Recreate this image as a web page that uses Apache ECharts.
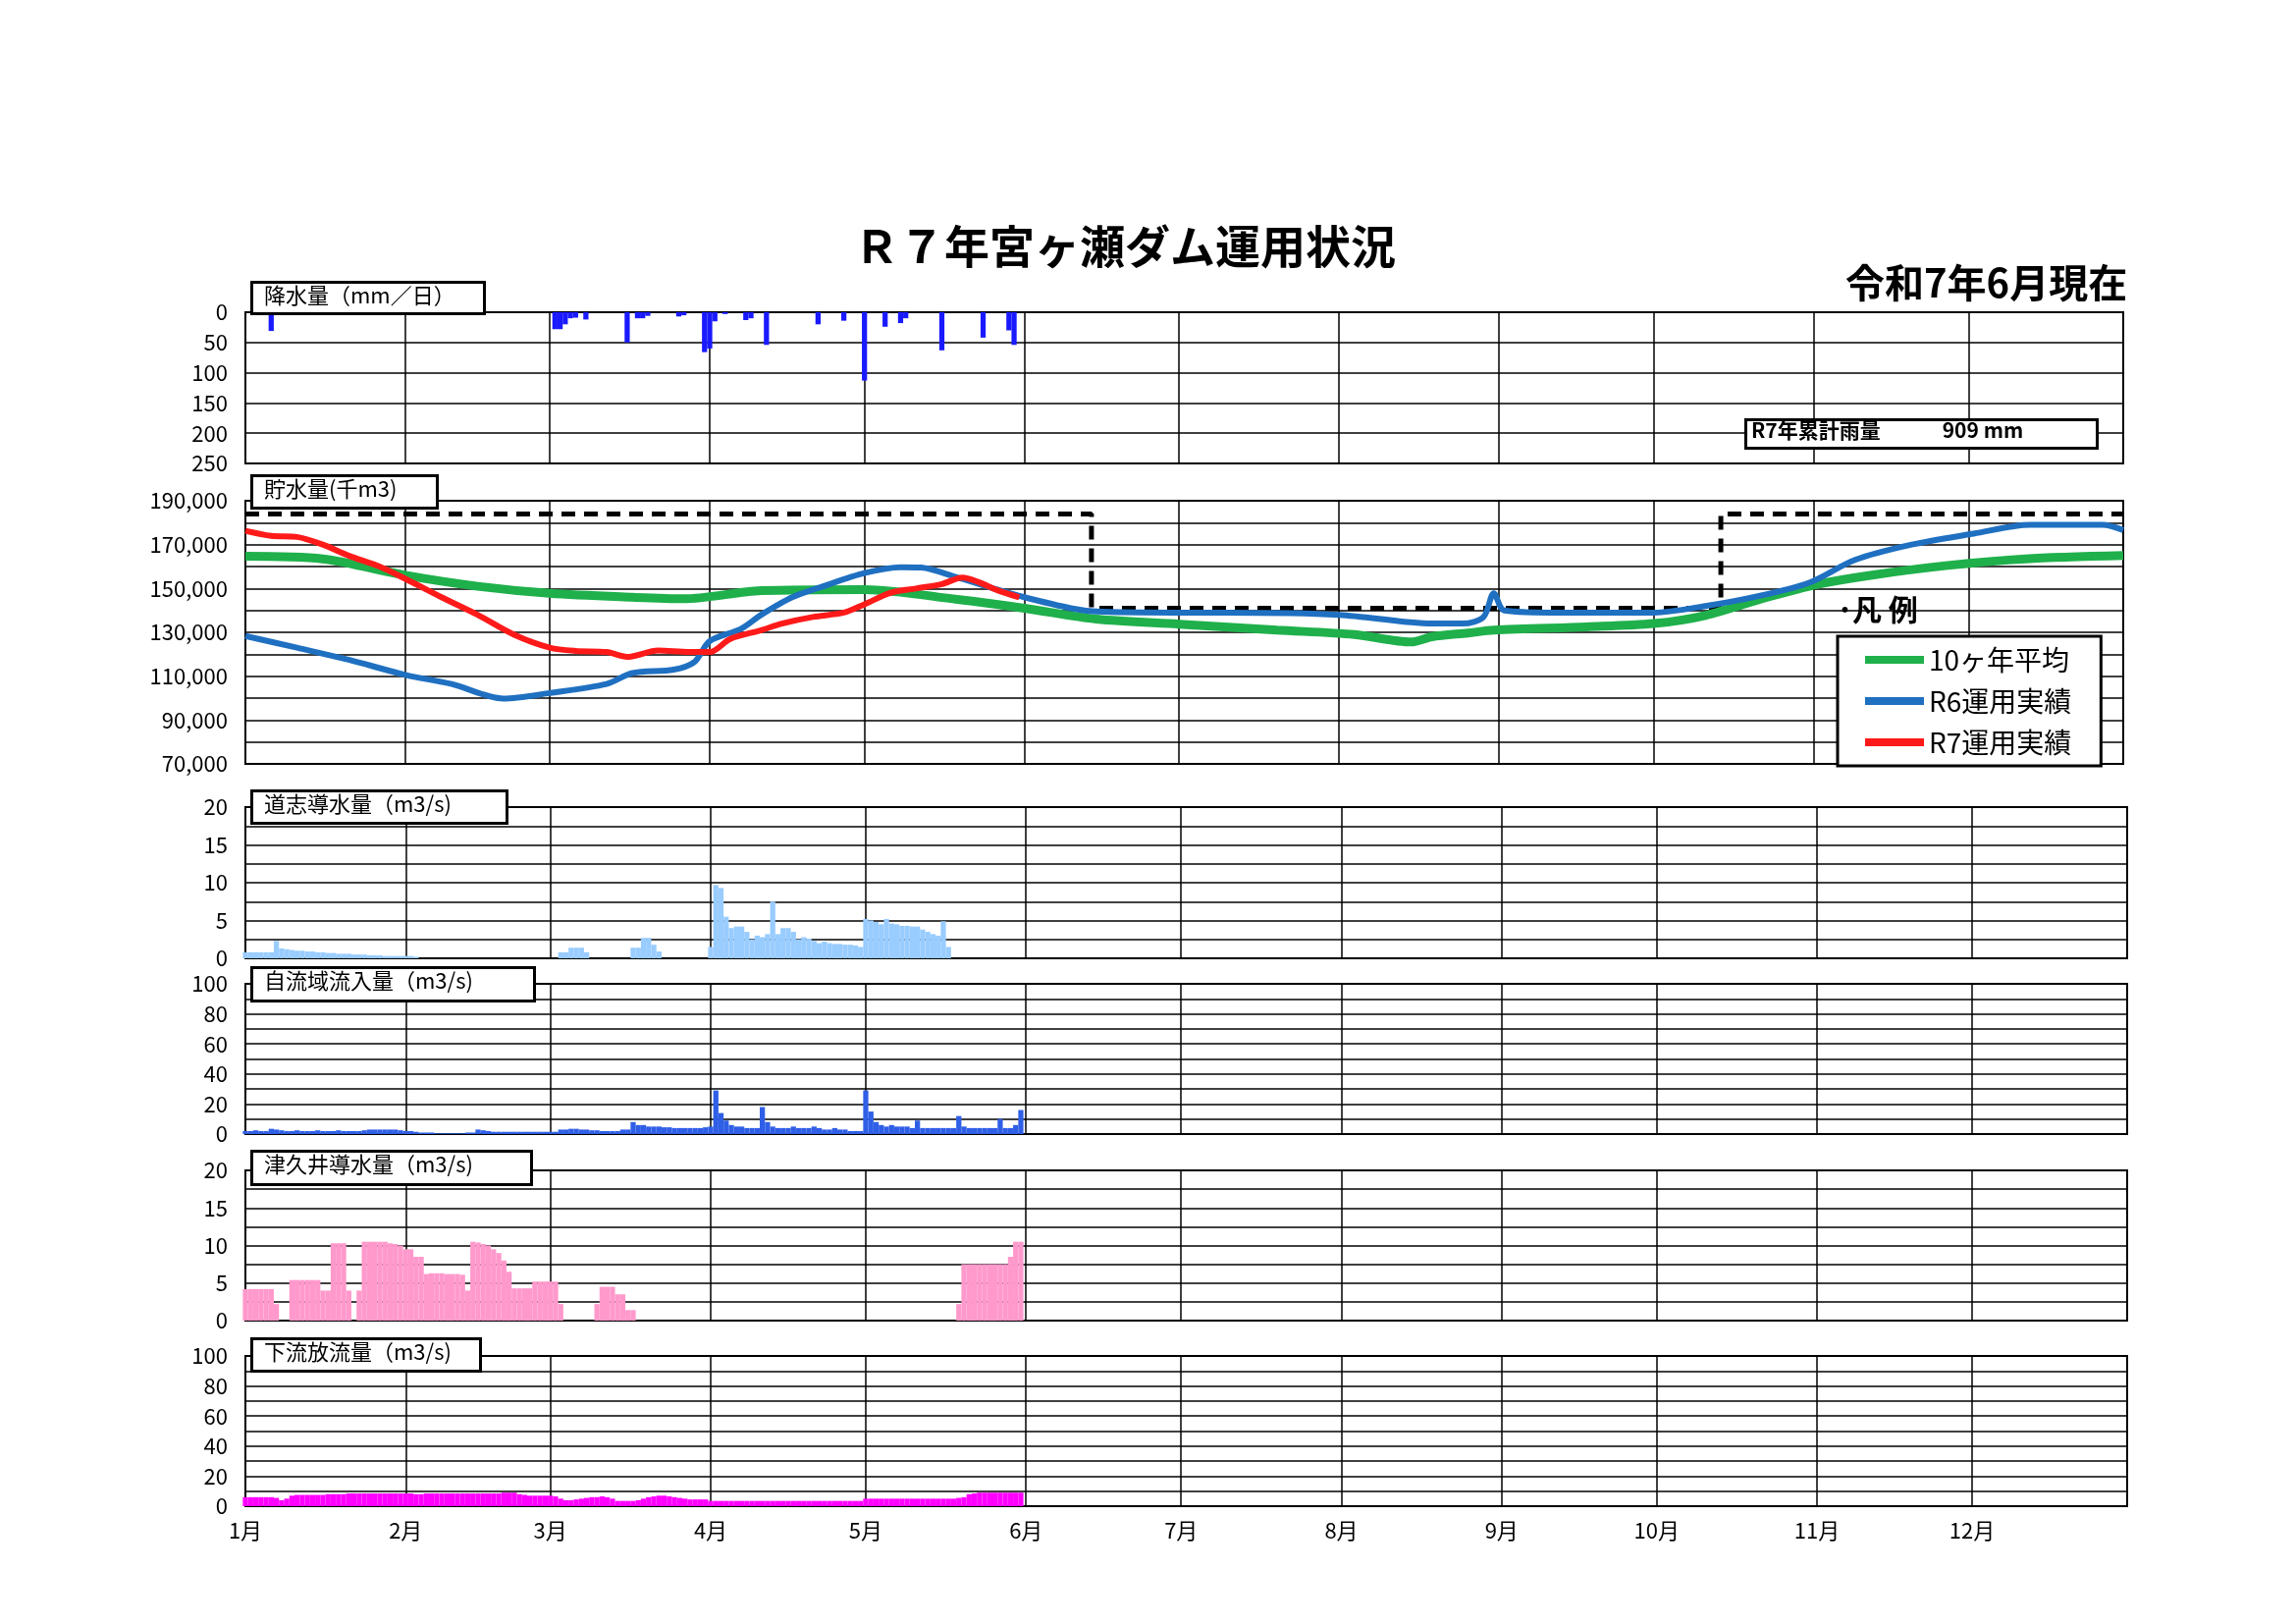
<!DOCTYPE html>
<html><head><meta charset="utf-8">
<script src="https://cdn.jsdelivr.net/npm/echarts@6/dist/echarts.min.js"></script>
<style>html,body{margin:0;background:#fff}#c{width:2339px;height:1654px}</style>
</head><body><div id="c"></div>
<script>
const monthLengths=[31,28,31,30,31,30,31,31,30,31,30,31];
const monthNames=['1月','2月','3月','4月','5月','6月','7月','8月','9月','10月','11月','12月'];
const rain=[[5,31],[60,28],[61,28],[62,20],[63,10],[64,9],[66,12],[74,50],[76,10],[77,10],[78,6],[84,7],[85,5],[89,66],[90,60],[91,15],[93,3],[97,13],[98,10],[101,54],[111,20],[116,14],[120,113],[124,24],[127,18],[128,10],[135,63],[143,42],[148,30],[149,54]];
const r7=[[0,176300],[5,174000],[10,173500],[15,170000],[20,165000],[26,160000],[31,154400],[38,146000],[45,138000],[52,129000],[59,123000],[64,121500],[70,121000],[74,118800],[80,121700],[86,121000],[90,121000],[94,127000],[100,131000],[104,134000],[110,137000],[116,139000],[120,142800],[125,148000],[130,150000],[135,152000],[139,155000],[142,153000],[146,149000],[150,146000]];
const r6=[[0,128300],[10,123000],[20,117500],[31,110600],[40,106400],[50,99800],[59,102300],[70,106400],[75,111400],[83,113000],[87,116400],[90,126000],[96,131500],[100,138000],[106,146000],[112,151000],[120,157000],[127,159700],[131,159500],[138,155000],[145,150000],[151,146000],[160,141000],[165,139500],[180,139000],[190,139000],[212,138000],[230,134000],[236,134000],[240,137000],[242,147800],[244,140000],[255,139000],[273,139000],[283,142000],[293,146400],[303,152500],[312,163000],[323,170000],[335,175000],[346,179000],[360,179000],[364,176600]];
const avg10=[[0,164700],[15,163500],[31,156000],[45,151000],[59,147800],[75,146000],[85,145300],[100,149000],[120,149500],[138,145000],[151,141000],[165,136000],[181,133700],[200,131000],[215,129000],[226,125600],[230,128000],[237,129700],[242,131000],[260,132500],[273,134000],[283,137700],[295,146000],[305,152000],[315,156000],[330,160500],[345,163500],[364,165000]];
const limitLine=[[0,184000],[164,184000],[164,141000],[286,141000],[286,184000],[364,184000]];
const doshi=[0.8,0.8,0.8,0.8,0.8,0.8,2.3,1.3,1.2,1.1,1.0,1.0,0.9,0.9,0.8,0.8,0.7,0.7,0.6,0.6,0.6,0.5,0.5,0.5,0.4,0.4,0.4,0.3,0.3,0.3,0.3,
0.3,0.3,0.2,0,0,0,0,0,0,0,0,0,0,0,0,0,0,0,0,0,0,0,0,0,0,0,0,0,
0,0,0.8,0.8,1.4,1.4,1.4,0.8,0,0,0,0,0,0,0,0,1.4,1.4,2.7,2.7,1.8,0.9,0,0,0,0,0,0,0,0,0,
1.5,9.7,9.3,5.5,4.0,4.2,4.2,3.5,2.5,3.0,2.8,3.2,7.5,3.2,4.0,4.0,3.5,2.5,2.8,2.6,2.3,2.0,2.2,2.0,1.9,1.9,1.8,1.8,1.7,1.5,
5.2,5.0,4.8,4.5,5.2,4.6,4.5,4.3,4.3,4.2,4.2,3.8,3.5,3.2,3.0,4.9,1.5,0,0,0,0,0,0,0,0,0,0,0,0,0,0];
const jiryu=[2,2,2.5,2,2,3.5,3,2.5,2,2,2.5,2,2,2,2.5,2,2,2,2.5,2,2,2,2,2.5,3,3,3,3,3,3,2.5,
2,2,1.5,1,1,1,0.5,0.5,0.5,0.5,0.5,0.5,1,1,3,2.5,2,1.5,1.5,1.5,1.5,1.5,1.5,1.5,1.5,1.5,1.5,1.5,
1.5,1.5,3,3,3.5,3.5,3,3,2.5,2.5,2,2,2,2,3,3,8,6,6,5,5,5,4.5,4.5,4,4,4,4,4,4,4.5,
5,29,14,9,6,5,5,4,4,4,18,8,5,4,4,4,5,4,4,4,5,4,3,3,4,3,3,2,2,2,
29,15,8,6,5,6,5,5,5,4,9,4,4,4,4,4,4,4,12,5,4,4,4,4,4,4,10,4,4,6,16];
const tsukui=[4.2,4.2,4.2,4.2,4.2,4.2,2.2,0,0,5.4,5.4,5.4,5.4,5.4,5.4,4.0,4.0,10.3,10.3,10.3,4,0,4,10.5,10.5,10.5,10.5,10.5,10.3,10.2,10,
9.5,9.5,8.5,8.5,6.2,6.3,6.3,6.3,6.2,6.2,6.2,6.1,4.0,10.5,10.4,10.2,10.0,9.5,9.0,8.0,6.5,4.3,4.3,4.3,4.3,5.2,5.2,5.2,
5.2,5.2,2.2,0,0,0,0,0,0,2.2,4.5,4.5,4.5,3.5,3.5,1.4,1.4,0,0,0,0,0,0,0,0,0,0,0,0,0,0,
0,0,0,0,0,0,0,0,0,0,0,0,0,0,0,0,0,0,0,0,0,0,0,0,0,0,0,0,0,0,
0,0,0,0,0,0,0,0,0,0,0,0,0,0,0,0,0,0,2.2,7.5,7.5,7.5,7.5,7.5,7.5,7.5,7.5,7.5,8.5,10.5,10.5];
const karyu=[6,6,6,6,6,6,5.5,4,5,7,7.5,7.5,7.5,7.5,7.5,7.5,8,8,8,8,8.5,8.5,8.5,8.5,8.5,8.5,8.5,8.5,8.5,8.5,8.5,
8.5,8.5,8,8,8.5,8.5,8.5,8.5,8.5,8.5,8.5,8.5,8.5,8.5,8.5,8.5,8.5,8.5,8.5,9,9,9,8,7.5,7,7,7,7,
7,6.5,5,4,4,4.5,5,5.5,6,6,6.5,6,5,3.5,3.5,3.5,3.5,4,5,6,6.5,7,7,6.5,6,5.5,5,4.5,4.5,4.5,4.5,
3.5,3.5,3.5,3.5,3.5,3.5,3.5,3.5,3.5,3.5,3.5,3.5,3.5,3.5,3.5,3.5,3.5,3.5,3.5,3.5,3.5,3.5,3.5,3.5,3.5,3.5,3.5,3.5,3.5,3.5,
5,5,5,5,5,5,5,5,5,5,5,5,5,5,5,5,5,5,5.5,6,8,8.5,9,9,9,9,9,9,9,9,9];

const days=[],monthStart={};
let d=0;monthLengths.forEach((n,m)=>{monthStart[d]=monthNames[m];for(let i=1;i<=n;i++)days.push((m+1)+'/'+i);d+=n;});
const isMS=i=>monthStart[i]!==undefined;
const FONT='Noto Sans CJK JP';
const grids=[
 {top:318,height:154,right:176},
 {top:510,height:268,right:176},
 {top:822,height:154,right:172},
 {top:1002,height:153,right:172},
 {top:1192,height:153,right:172},
 {top:1381,height:153,right:172}
].map(g=>Object.assign({left:250,show:true,borderColor:'#000',borderWidth:2,backgroundColor:'#fff'},g));
const xAxes=grids.map((g,i)=>({type:'category',gridIndex:i,data:days,boundaryGap:false,
 axisLine:{show:false},axisTick:{show:false},
 axisLabel:{show:i===5,interval:(idx)=>isMS(idx),formatter:(v,idx)=>monthStart[idx]||'',fontSize:22,color:'#000',fontFamily:FONT,margin:14,align:'center'},
 splitLine:{show:true,interval:(idx)=>isMS(idx)&&idx>0,lineStyle:{color:'#000',width:1.5}}}));
function yAx(i,min,max,interval,labelStep,opts){
 return Object.assign({type:'value',gridIndex:i,min,max,interval,axisLine:{show:false},axisTick:{show:false},
  axisLabel:{fontSize:22,color:'#000',fontFamily:FONT,margin:18,showMaxLabel:true,showMinLabel:true,
   formatter:v=>(Math.round((v-min)/labelStep*1000)%1000===0)?(max>1000?v.toLocaleString('en-US'):String(v)):''},
  splitLine:{show:true,lineStyle:{color:'#000',width:1.5}}},opts||{});
}
const yAxes=[yAx(0,0,250,50,50,{inverse:true}),yAx(1,70000,190000,10000,20000),yAx(2,0,20,2.5,5),yAx(3,0,100,10,20),yAx(4,0,20,2.5,5),yAx(5,0,100,10,20)];
const bar=(i,data,color)=>({type:'bar',xAxisIndex:i,yAxisIndex:i,data,itemStyle:{color},barCategoryGap:'0%',barWidth:'100%',silent:true});
const line=(name,data,color,w,extra)=>Object.assign({type:'line',name,xAxisIndex:1,yAxisIndex:1,data,symbol:'none',smooth:0.3,lineStyle:{color,width:w},itemStyle:{color},silent:true},extra||{});
const boxes=[['降水量（mm／日）',255,286,237,32],['貯水量(千m3)',255,483,189,33],['道志導水量（m3/s)',255,804,260,33],['自流域流入量（m3/s)',255,984,288,34],['津久井導水量（m3/s)',255,1171,285,34],['下流放流量（m3/s)',255,1362,233,33]];
const graphic=[];
boxes.forEach(b=>{graphic.push({type:'rect',left:b[1],top:b[2],shape:{width:b[3],height:b[4]},style:{fill:'#fff',stroke:'#000',lineWidth:3},z:100});
 graphic.push({type:'text',left:b[1]+14,top:b[2]+4,style:{text:b[0],font:'22px "Noto Sans CJK JP"',fill:'#000'},z:101});});
graphic.push({type:'text',left:870,top:228,style:{text:'Ｒ７年宮ヶ瀬ダム運用状況',font:'bold 46px "Noto Sans CJK JP"',fill:'#000'},z:101});
graphic.push({type:'text',left:1880,top:268,style:{text:'令和7年6月現在',font:'bold 40px "Noto Sans CJK JP"',fill:'#000'},z:101});
graphic.push({type:'rect',left:1777,top:426,shape:{width:358,height:29},style:{fill:'#fff',stroke:'#000',lineWidth:3},z:100});
graphic.push({type:'text',left:1784,top:428,style:{text:'R7年累計雨量　　　909 mm',font:'bold 21px "Noto Sans CJK JP"',fill:'#000'},z:101});
graphic.push({type:'text',left:1872,top:606,style:{text:'･凡 例',font:'bold 30px "Noto Sans CJK JP"',fill:'#000'},z:101});
const chart=echarts.init(document.getElementById('c'));
chart.setOption({animation:false,backgroundColor:'#fff',grid:grids,xAxis:xAxes,yAxis:yAxes,graphic,
 legend:{data:['10ヶ年平均','R6運用実績','R7運用実績'],orient:'vertical',left:1872,top:648,itemWidth:60,itemHeight:8,itemGap:14,
  backgroundColor:'#fff',borderColor:'#000',borderWidth:3,padding:[10,30,10,28],textStyle:{fontSize:28,fontFamily:FONT,color:'#000'},icon:'rect'},
 series:[
  bar(0,rain,'#1a1aff'),
  line('dash',limitLine,'#000',5,{smooth:false,lineStyle:{color:'#000',width:5,type:[14,9]}}),
  line('10ヶ年平均',avg10,'#1fb04b',9),
  line('R6運用実績',r6,'#1f70c1',6),
  line('R7運用実績',r7,'#ff1a1a',6),
  bar(2,doshi,'#99ccff'),
  bar(3,jiryu,'#2f5fe6'),
  bar(4,tsukui,'#ff99cc'),
  bar(5,karyu,'#ff00ff')
 ]});
</script></body></html>
